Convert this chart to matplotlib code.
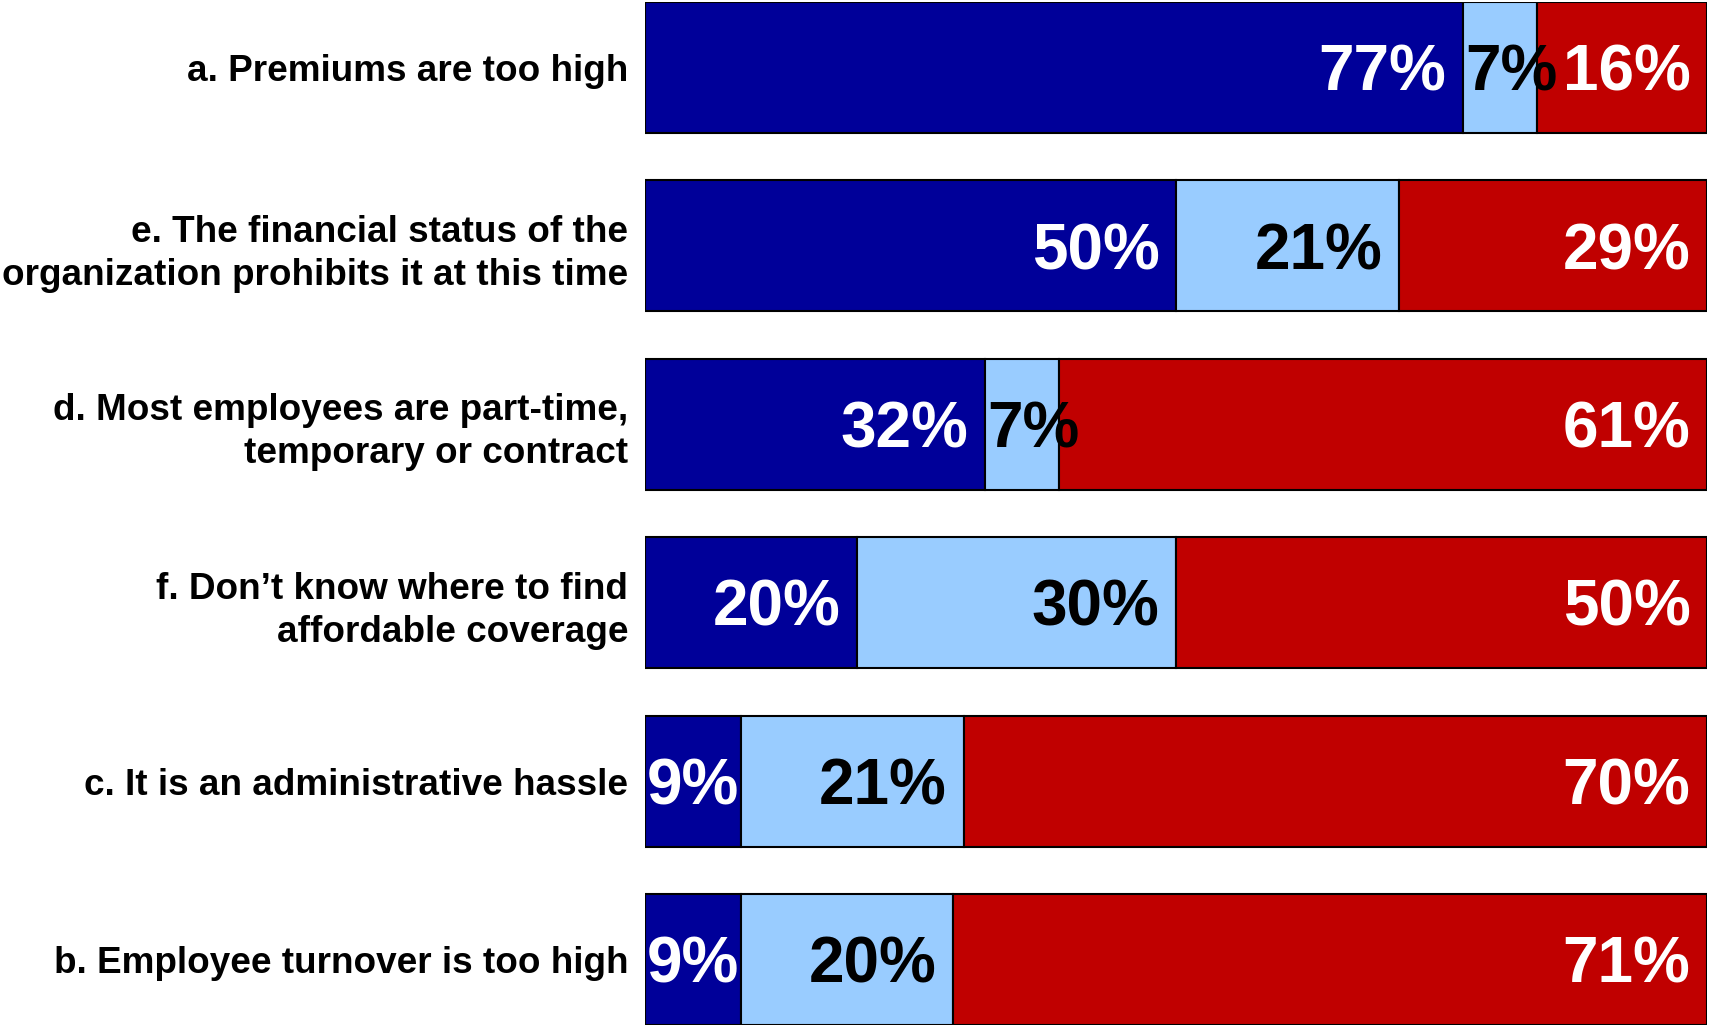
import matplotlib.pyplot as plt
import numpy as np

plt.rcParams['font.family'] = ['Liberation Sans', 'DejaVu Sans']

# reasons, top to bottom
categories = [
    'a. Premiums are too high',
    'e. The financial status of the\norganization prohibits it at this time',
    'd. Most employees are part-time,\ntemporary or contract',
    'f. Don\u2019t know where to find\naffordable coverage',
    'c. It is an administrative hassle',
    'b. Employee turnover is too high',
]
dark_vals = [77, 50, 32, 20, 9, 9]
light_vals = [7, 21, 7, 30, 21, 20]
red_vals = [16, 29, 61, 50, 70, 71]

colors = ['#000099', '#99CCFF', '#C00000']
text_colors = ['white', 'black', 'white']

fig = plt.figure(figsize=(17.09, 10.27), dpi=100)
ax = fig.add_axes([645 / 1709, 1 - 1025 / 1027, (1707 - 645) / 1709, 1023 / 1027])

y = np.arange(len(categories))
h = 0.733
left = np.zeros(len(categories))
for vals, col, tcol in zip([dark_vals, light_vals, red_vals], colors, text_colors):
    vals = np.array(vals)
    ax.barh(y, vals, left=left, height=h, color=col, edgecolor='black', linewidth=1.5)
    for yi, l, v in zip(y, left, vals):
        if v < 10:
            # narrow segment: label starts at the segment's left edge
            ax.annotate(f'{v}%', (l, yi), xytext=(1.5, -4.5), textcoords='offset points',
                        ha='left', va='center', fontsize=46, fontweight='bold', color=tcol)
        else:
            ax.annotate(f'{v}%', (l + v, yi), xytext=(-12, -4.5), textcoords='offset points',
                        ha='right', va='center', fontsize=46, fontweight='bold', color=tcol)
    left += vals

ax.set_xlim(0, 100)
ax.set_ylim(len(categories) - 1 + h / 2, -h / 2)
ax.set_xticks([])
ax.set_yticks(y)
ax.set_yticklabels(categories, fontsize=26.6, fontweight='bold', linespacing=1.3)
ax.tick_params(axis='y', length=0, pad=12)
for s in ax.spines.values():
    s.set_visible(False)

fig.savefig('out.png', dpi=100)
